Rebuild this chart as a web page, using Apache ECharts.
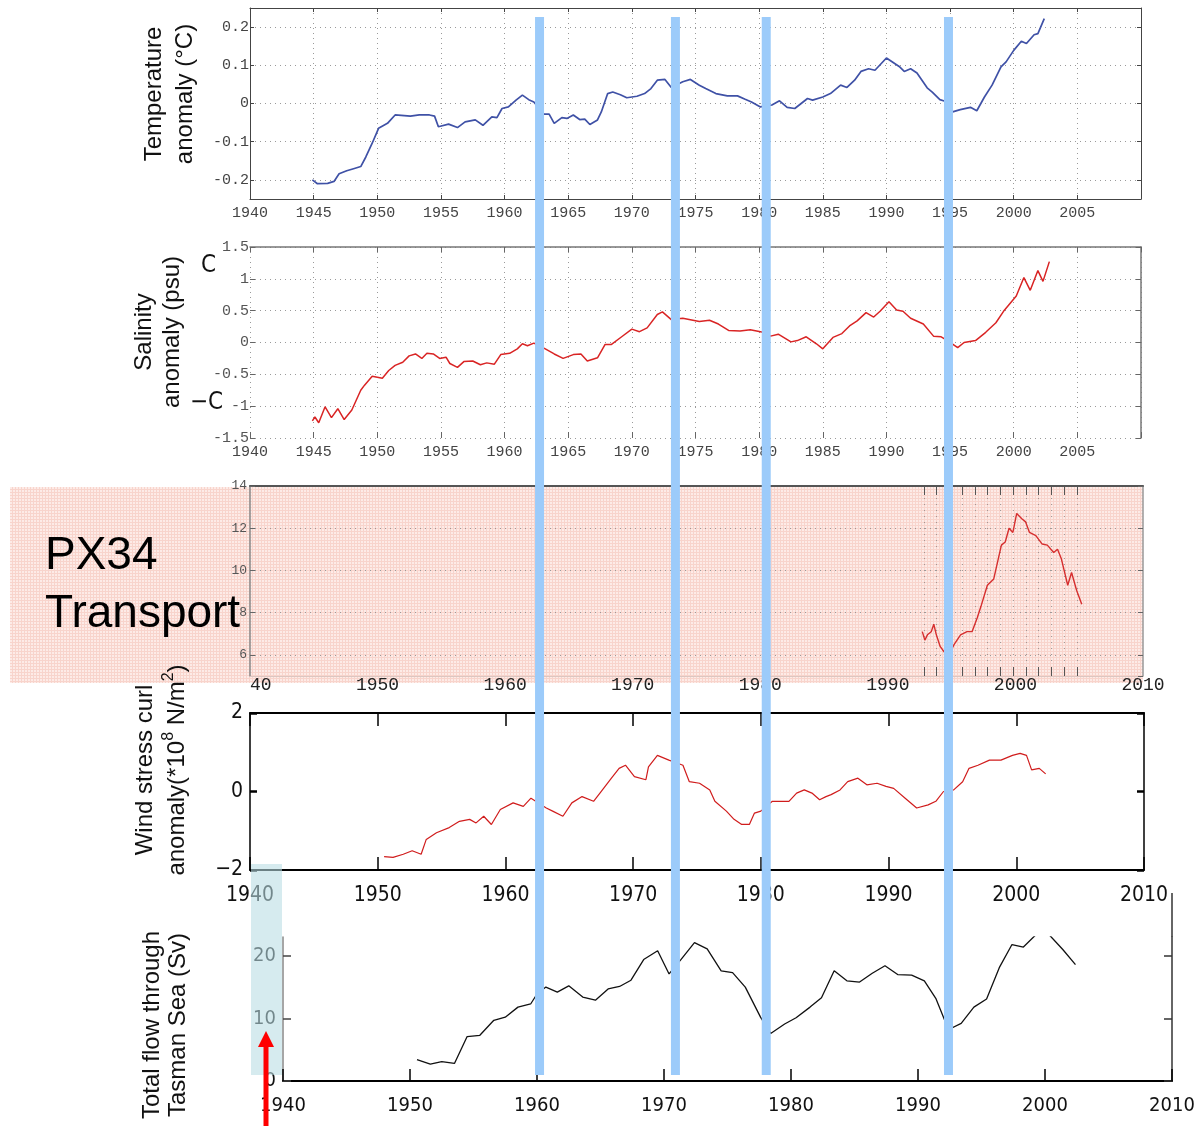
<!DOCTYPE html>
<html lang="en">
<head>
<meta charset="UTF-8">
<title>Tasman Sea anomalies</title>
<script src="https://cdn.jsdelivr.net/npm/echarts@6/dist/echarts.min.js"></script>
<style>html,body{margin:0;padding:0;background:#fff;}</style>
</head>
<body>
<div id="main" style="width:1201px;height:1126px;"></div>
<script type="text/javascript">

// [year, value] pairs
const temperature = [
    [1944.9,-0.2],[1945.3,-0.21],[1946.1,-0.209],[1946.6,-0.204],[1947,-0.184],[1947.6,-0.176],[1948.2,-0.17],
    [1948.7,-0.165],[1949.1,-0.14],[1949.6,-0.104],[1950.1,-0.065],[1950.8,-0.052],[1951.4,-0.03],[1952.6,-0.033],
    [1953.3,-0.03],[1954.1,-0.03],[1954.5,-0.033],[1954.8,-0.061],[1955.6,-0.054],[1956.3,-0.063],[1956.9,-0.048],
    [1957.7,-0.043],[1958.3,-0.057],[1959,-0.035],[1959.4,-0.037],[1959.8,-0.013],[1960.3,-0.009],[1960.9,0.009],
    [1961.4,0.022],[1961.9,0.01],[1962.3,0.004],[1963.1,-0.028],[1963.5,-0.028],[1963.9,-0.052],[1964.5,-0.037],
    [1964.9,-0.039],[1965.4,-0.03],[1965.9,-0.042],[1966.3,-0.041],[1966.7,-0.055],[1967.3,-0.043],[1967.6,-0.022],
    [1968.1,0.026],[1968.5,0.03],[1969.1,0.023],[1969.6,0.015],[1970.4,0.019],[1971,0.026],[1971.5,0.039],
    [1972,0.061],[1972.6,0.063],[1973.1,0.042],[1974,0.057],[1974.6,0.063],[1975.3,0.048],[1975.8,0.039],
    [1976.6,0.026],[1977.5,0.02],[1978.3,0.02],[1978.9,0.011],[1979.4,0.004],[1980.1,-0.009],[1981,-0.004],
    [1981.6,0.007],[1982.2,-0.01],[1982.8,-0.013],[1983.8,0.013],[1984.2,0.009],[1985,0.017],[1985.6,0.026],
    [1986.4,0.048],[1986.9,0.042],[1987.5,0.061],[1988,0.084],[1988.6,0.091],[1989.1,0.087],[1990,0.119],
    [1991,0.097],[1991.4,0.084],[1991.9,0.091],[1992.4,0.08],[1993.2,0.041],[1993.6,0.03],[1994.2,0.01],
    [1994.6,0.006],[1995.2,-0.022],[1995.8,-0.016],[1996.6,-0.01],[1997.1,-0.019],[1997.7,0.017],[1998.3,0.048],
    [1999,0.096],[1999.4,0.109],[2000,0.139],[2000.6,0.163],[2001,0.157],[2001.6,0.18],[2001.9,0.183],[2002.4,0.222]
];

const salinity = [
    [1944.9,-1.23],[1945.1,-1.17],[1945.4,-1.26],[1945.9,-1.01],[1946.4,-1.18],[1946.9,-1.04],[1947.4,-1.21],
    [1948,-1.06],[1948.7,-0.75],[1949,-0.67],[1949.6,-0.53],[1950.4,-0.56],[1950.9,-0.44],[1951.4,-0.36],
    [1952,-0.31],[1952.5,-0.21],[1953,-0.18],[1953.5,-0.25],[1953.9,-0.17],[1954.4,-0.18],[1954.9,-0.25],
    [1955.4,-0.23],[1955.7,-0.33],[1956.3,-0.39],[1956.8,-0.3],[1957.5,-0.29],[1958.1,-0.35],[1958.6,-0.32],
    [1959.2,-0.34],[1959.7,-0.19],[1960.4,-0.17],[1961,-0.1],[1961.4,-0.02],[1961.8,-0.05],[1962.3,-0.01],
    [1963.2,-0.1],[1963.9,-0.18],[1964.6,-0.25],[1965.4,-0.19],[1966,-0.18],[1966.5,-0.29],[1967.3,-0.24],
    [1967.9,-0.03],[1968.4,-0.03],[1969.2,0.09],[1970,0.21],[1970.6,0.17],[1971.2,0.23],[1972,0.44],
    [1972.4,0.48],[1973.1,0.36],[1974,0.38],[1975.3,0.33],[1976.1,0.35],[1976.8,0.29],[1977.6,0.19],
    [1978.5,0.18],[1979.3,0.2],[1980.3,0.16],[1980.9,0.1],[1981.5,0.13],[1982.5,0.01],[1983,0.03],
    [1983.7,0.09],[1984.5,-0.02],[1985,-0.1],[1985.8,0.08],[1986.5,0.14],[1987.1,0.26],[1987.7,0.34],
    [1988.4,0.47],[1989,0.4],[1989.5,0.49],[1990.2,0.64],[1990.8,0.51],[1991.3,0.49],[1991.9,0.38],
    [1992.9,0.29],[1993.7,0.1],[1994.3,0.09],[1994.8,0.03],[1995.6,-0.08],[1996.1,0],[1997,0.03],
    [1997.8,0.16],[1998.6,0.31],[1999.2,0.49],[2000.2,0.73],[2000.8,1.02],[2001.3,0.82],[2001.9,1.13],
    [2002.3,0.96],[2002.8,1.27]
];

const px34 = [
    [1992.7,7.1],[1992.9,6.7],[1993.1,6.95],[1993.4,7.1],[1993.6,7.45],[1993.8,6.95],[1994.1,6.4],[1994.4,6.15],
    [1994.9,6.15],[1995.2,6.5],[1995.7,6.95],[1996.2,7.1],[1996.6,7.1],[1997,7.75],[1997.3,8.3],[1997.8,9.3],
    [1998.3,9.6],[1998.9,11.2],[1999.2,11.35],[1999.5,12],[1999.8,11.8],[2000.1,12.7],[2000.5,12.45],
    [2000.8,12.3],[2001.1,11.8],[2001.6,11.65],[2002.1,11.25],[2002.5,11.2],[2003,10.85],[2003.3,11],
    [2003.6,10.55],[2004.1,9.3],[2004.4,9.9],[2004.8,9.05],[2005.2,8.4]
];
const px34TickYears = [1992.8,1993.8,1994.8,1995.8,1996.8,1997.8,1998.8,1999.8,2000.8,2001.8,2002.8,2003.8,2004.8];

const windCurl = [
    [1950.5,-1.66],[1951.2,-1.68],[1952,-1.6],[1952.7,-1.51],[1953.4,-1.6],[1953.8,-1.22],[1954.6,-1.05],
    [1955.6,-0.92],[1956.4,-0.76],[1957.2,-0.71],[1957.7,-0.8],[1958.3,-0.63],[1958.9,-0.84],[1959.6,-0.46],
    [1960.6,-0.29],[1961.4,-0.38],[1962,-0.17],[1963.2,-0.42],[1963.7,-0.5],[1964.5,-0.63],[1965.2,-0.29],
    [1966,-0.13],[1966.9,-0.25],[1967.4,-0.04],[1968.3,0.34],[1968.9,0.59],[1969.4,0.67],[1970.1,0.38],
    [1971,0.3],[1971.2,0.63],[1971.9,0.92],[1972.8,0.8],[1973.9,0.67],[1974.4,0.25],[1975.2,0.21],
    [1976,0.04],[1976.4,-0.25],[1977.3,-0.5],[1977.9,-0.71],[1978.5,-0.84],[1979.1,-0.84],[1979.5,-0.55],
    [1980,-0.5],[1980.9,-0.25],[1981.4,-0.25],[1982.2,-0.25],[1982.8,-0.04],[1983.4,0.04],[1984,-0.04],
    [1984.6,-0.21],[1985.1,-0.13],[1985.5,-0.08],[1986.2,0.04],[1986.8,0.25],[1987.6,0.34],[1988.3,0.17],
    [1989.1,0.21],[1989.8,0.13],[1990.4,0.08],[1991.3,-0.17],[1992.2,-0.42],[1993.1,-0.34],[1993.7,-0.25],
    [1994.3,0],[1995.1,0.04],[1995.8,0.25],[1996.3,0.59],[1997,0.67],[1997.9,0.8],[1998.8,0.8],[1999.7,0.92],
    [2000.3,0.97],[2000.8,0.92],[2001.2,0.55],[2001.8,0.59],[2002.3,0.45]
];

const tasmanFlow = [
    [1950.55,3.4],[1951.6,2.7],[1952.5,3.1],[1953.5,2.8],[1954.5,7.1],[1955.5,7.3],[1956.6,9.7],[1957.5,10.2],
    [1958.5,11.8],[1959.5,12.3],[1960,13.9],[1960.7,15],[1961.6,14.2],[1962.5,15.2],[1963.6,13.4],[1964.6,12.9],
    [1965.6,14.7],[1966.5,15.1],[1967.4,16.1],[1968.4,19.4],[1969.5,20.8],[1970.4,17.1],[1971.3,19.3],
    [1972.4,22.1],[1973.4,21.1],[1974.5,17.6],[1975.4,17.3],[1976.4,15],[1977.6,10.2],[1978.4,7.6],
    [1979.5,9.1],[1980.4,10.1],[1981.5,11.8],[1982.4,13.3],[1983.4,17.6],[1984.4,16],[1985.4,15.8],
    [1986.4,17.2],[1987.4,18.4],[1988.4,17],[1989.5,16.9],[1990.5,16],[1991.4,13.2],[1992.1,9.7],
    [1992.5,8.3],[1993.4,9.2],[1994.4,11.8],[1995.4,13.1],[1996.4,18.1],[1997.4,21.8],[1998.3,21.4],
    [1999.2,23.2],[1999.8,24.2],[2000.4,23.2],[2001.4,21],[2002.4,18.6]
];
const flowTicks = [0, 10, 20];

// years (on the bottom panel's axis) of the blue highlight bars
const highlightYears = [1960.2, 1970.9, 1978.05, 1992.4];

const mono = "'Liberation Mono', 'DejaVu Sans Mono', monospace";
const narrow = "'DejaVu Sans Condensed', 'Liberation Sans Narrow', 'DejaVu Sans', sans-serif";
const sans = "'Liberation Sans', Arial, sans-serif";

const line = (color, width, show) => ({show: show !== false, onZero: false, lineStyle: {color: color, width: width}});
const ticks = (len, color, width) => ({show: true, inside: true, length: len, lineStyle: {color: color, width: width || 1}});
const noTicks = {show: false};
const dotted = {show: true, lineStyle: {color: '#9a9a9a', width: 1, type: [1, 4]}};
const noLabel = {show: false};
const noSplit = {show: false};
const yearLabel = v => String(v);

function lineSeries(data, idx, color, width) {
    return {
        type: 'line', xAxisIndex: idx, yAxisIndex: idx, data: data,
        showSymbol: false, symbol: 'none', z: 3,
        lineStyle: {color: color, width: width}, itemStyle: {color: color}
    };
}

let option = {
    animation: false,
    backgroundColor: '#fff',
    grid: [
        {left: 250, top: 8, width: 891, height: 191, outerBoundsMode: 'none'},
        {left: 250, top: 247, width: 891, height: 191, outerBoundsMode: 'none'},
        {left: 250, top: 486, width: 893, height: 190, outerBoundsMode: 'none'},
        {left: 250, top: 713, width: 894, height: 157, outerBoundsMode: 'none'},
        {left: 283, top: 937, width: 889, height: 144, outerBoundsMode: 'none'}
    ],
    xAxis: [
        // temperature
        {type: 'value', gridIndex: 0, position: 'bottom', min: 1940, max: 2010, interval: 5,
            axisLine: line('#444', 1), axisTick: ticks(4, '#444'), splitLine: dotted,
            axisLabel: {fontFamily: mono, fontSize: 15, color: '#444', margin: 7,
                formatter: v => v === 2010 ? '' : String(v)}},
        {type: 'value', gridIndex: 0, position: 'top', min: 1940, max: 2010, interval: 5,
            axisLine: line('#444', 1), axisTick: ticks(4, '#444'), axisLabel: noLabel, splitLine: noSplit},
        // salinity
        {type: 'value', gridIndex: 1, position: 'bottom', min: 1940, max: 2010, interval: 5,
            axisLine: line('#777', 1, false), axisTick: ticks(6, '#666'), splitLine: dotted,
            axisLabel: {fontFamily: mono, fontSize: 15, color: '#444', margin: 7,
                formatter: v => v === 2010 ? '' : String(v)}},
        {type: 'value', gridIndex: 1, position: 'top', min: 1940, max: 2010, interval: 5,
            axisLine: line('#777', 1.5), axisTick: ticks(5, '#666'), axisLabel: noLabel, splitLine: noSplit},
        // PX34
        {type: 'value', gridIndex: 2, position: 'bottom', min: 1940, max: 2010, interval: 10,
            axisLine: line('#dcc6c1', 1), axisTick: noTicks, splitLine: noSplit,
            axisLabel: {fontFamily: mono, fontSize: 18, color: '#222', margin: 0,
                formatter: v => v === 1940 ? '{h|19}{n|40}' : String(v),
                rich: {
                    h: {fontFamily: mono, fontSize: 18, color: 'rgba(0,0,0,0)'},
                    n: {fontFamily: mono, fontSize: 18, color: '#222'}
                }}},
        {type: 'value', gridIndex: 2, position: 'top', min: 1940, max: 2010,
            axisLine: line('#555', 2), axisTick: noTicks, axisLabel: noLabel, splitLine: noSplit},
        // wind stress curl
        {type: 'value', gridIndex: 3, position: 'bottom', min: 1940, max: 2010, interval: 10,
            axisLine: line('#000', 2), axisTick: ticks(13, '#000', 1.5), splitLine: noSplit,
            axisLabel: {fontFamily: narrow, fontSize: 21, color: '#111', margin: 15, formatter: yearLabel}},
        {type: 'value', gridIndex: 3, position: 'top', min: 1940, max: 2010, interval: 10,
            axisLine: line('#000', 2), axisTick: ticks(13, '#000', 1.5), axisLabel: noLabel, splitLine: noSplit},
        // total flow
        {type: 'value', gridIndex: 4, position: 'bottom', min: 1940, max: 2010, interval: 10,
            axisLine: line('#000', 2), axisTick: ticks(12, '#000', 1.5), splitLine: noSplit,
            axisLabel: {fontFamily: narrow, fontSize: 20, color: '#111', margin: 15, formatter: yearLabel}}
    ],
    yAxis: [
        {type: 'value', gridIndex: 0, position: 'left', min: -0.25, max: 0.25, minInterval: 0.1, maxInterval: 0.1,
            axisLine: line('#444', 1), axisTick: ticks(4, '#444'), splitLine: dotted,
            axisLabel: {fontFamily: mono, fontSize: 15, color: '#444', margin: 1, showMinLabel: false, showMaxLabel: false,
                formatter: v => String(Math.round(v * 10) / 10)}},
        {type: 'value', gridIndex: 0, position: 'right', min: -0.25, max: 0.25, minInterval: 0.1, maxInterval: 0.1,
            axisLine: line('#444', 1), axisTick: ticks(4, '#444'), axisLabel: noLabel, splitLine: noSplit},
        {type: 'value', gridIndex: 1, position: 'left', min: -1.5, max: 1.5, interval: 0.5,
            axisLine: line('#777', 1, false), axisTick: ticks(5, '#666'), splitLine: dotted,
            axisLabel: {fontFamily: mono, fontSize: 15, color: '#555', margin: 1, formatter: v => String(v)}},
        {type: 'value', gridIndex: 1, position: 'right', min: -1.5, max: 1.5, interval: 0.5,
            axisLine: line('#777', 1.5), axisTick: ticks(5, '#666'), axisLabel: noLabel, splitLine: noSplit},
        {type: 'value', gridIndex: 2, position: 'left', min: 5, max: 14, minInterval: 2, maxInterval: 2,
            axisLine: line('#888', 1.5), axisTick: ticks(5, '#666'), splitLine: dotted,
            axisLabel: {fontFamily: mono, fontSize: 13, color: '#555', margin: 3, showMinLabel: false,
                formatter: v => String(v)}},
        {type: 'value', gridIndex: 2, position: 'right', min: 5, max: 14, minInterval: 2, maxInterval: 2,
            axisLine: line('#999', 1.5), axisTick: ticks(5, '#666'), axisLabel: noLabel, splitLine: noSplit},
        {type: 'value', gridIndex: 3, position: 'left', min: -2, max: 2, interval: 2,
            axisLine: line('#000', 1.5), axisTick: ticks(7, '#000', 2.5), splitLine: noSplit,
            axisLabel: {fontFamily: narrow, fontSize: 21, color: '#111', margin: 7,
                formatter: v => String(v).replace('-', '\u2212')}},
        {type: 'value', gridIndex: 3, position: 'right', min: -2, max: 2, interval: 2,
            axisLine: line('#000', 1.5), axisTick: ticks(7, '#000', 2.5), axisLabel: noLabel, splitLine: noSplit},
        {type: 'value', gridIndex: 4, position: 'left', min: 0, max: 23, interval: 10,
            axisLine: line('#888', 1.5),
            axisTick: Object.assign(ticks(8, '#444', 1.5), {customValues: flowTicks}), splitLine: noSplit,
            axisLabel: {fontFamily: narrow, fontSize: 20, color: '#111', margin: 7,
                customValues: flowTicks, formatter: v => String(v)}},
        {type: 'value', gridIndex: 4, position: 'right', min: 0, max: 23, interval: 10,
            axisLine: line('#333', 1.5),
            axisTick: Object.assign(ticks(8, '#333', 1.5), {customValues: flowTicks}),
            axisLabel: noLabel, splitLine: noSplit}
    ],
    series: [
        lineSeries(temperature, 0, '#3f51a6', 1.7),
        lineSeries(salinity, 2, '#d92424', 1.5),
        lineSeries(px34, 4, '#d62e2e', 1.4),
        {
            // yearly ticks drawn on the PX34 panel
            type: 'custom', xAxisIndex: 4, yAxisIndex: 4, z: 2,
            data: px34TickYears.map(y => [y]),
            renderItem: function (params, api) {
                const top = api.coord([api.value(0), 14]);
                const bot = api.coord([api.value(0), 5]);
                const x = Math.round(top[0]) + 0.5;
                return {
                    type: 'group',
                    children: [
                        {type: 'line', shape: {x1: x, y1: top[1], x2: x, y2: top[1] + 9}, style: {stroke: '#555', lineWidth: 1}},
                        {type: 'line', shape: {x1: x, y1: bot[1] - 9, x2: x, y2: bot[1]}, style: {stroke: '#555', lineWidth: 1}},
                        {type: 'line', shape: {x1: x, y1: top[1] + 12, x2: x, y2: bot[1] - 12},
                            style: {stroke: '#a09a98', lineWidth: 1, lineDash: [1, 5]}}
                    ]
                };
            }
        },
        lineSeries(windCurl, 6, '#d01c1c', 1.2),
        lineSeries(tasmanFlow, 8, '#111', 1.3)
    ]
};

let myChart = echarts.init(document.getElementById('main'));
myChart.setOption(option);

// pink dotted background of the PX34 panel
const tile = document.createElement('canvas');
tile.width = 3;
tile.height = 3;
const tc = tile.getContext('2d');
tc.fillStyle = '#fdebe7';
tc.fillRect(0, 0, 3, 3);
tc.fillStyle = '#f8d4cc';
tc.fillRect(0, 0, 3, 1);
tc.fillRect(0, 0, 1, 3);

const label = (x, y, text, size, extra) => ({
    type: 'text', x: x, y: y, rotation: Math.PI / 2, z: 50,
    style: Object.assign({text: text, fontFamily: sans, fontSize: size, fill: '#111',
        align: 'center', verticalAlign: 'middle'}, extra)
});

let graphics = [
    {type: 'rect', z: -10, shape: {x: 10, y: 487, width: 1133, height: 196},
        style: {fill: {image: tile, repeat: 'repeat'}}},
    label(170, 94, 'Temperature\nanomaly (\u00b0C)', 24, {lineHeight: 31}),
    label(158, 332, 'Salinity\nanomaly (psu)', 24, {lineHeight: 28}),
    label(161, 770, 'Wind stress curl\nanomaly(*10{s|8} N/m{s|2})', 24, {lineHeight: 32,
        rich: {s: {fontFamily: sans, fontSize: 16, verticalAlign: 'top', fill: '#111'}}}),
    label(165, 1025, 'Total flow through\nTasman Sea (Sv)', 24, {lineHeight: 26}),
    {type: 'text', x: 201, y: 266, z: 50, style: {text: 'C', fontFamily: narrow, fontSize: 24, fill: '#111', verticalAlign: 'middle'}},
    {type: 'text', x: 190, y: 403, z: 50, style: {text: '\u2212C', fontFamily: narrow, fontSize: 24, fill: '#111', verticalAlign: 'middle'}},
    {type: 'text', x: 45, y: 556, z: 50, style: {text: 'PX34', fontFamily: sans, fontSize: 46, fill: '#000', verticalAlign: 'middle'}},
    {type: 'text', x: 45, y: 614, z: 50, style: {text: 'Transport', fontFamily: sans, fontSize: 46, fill: '#000', verticalAlign: 'middle'}},
    // top part of the flow panel's right axis
    {type: 'line', z: 5, shape: {x1: 1172, y1: 893, x2: 1172, y2: 937}, style: {stroke: '#333', lineWidth: 1.5}},
    // light blue box over the lower left labels
    {type: 'rect', z: 100, shape: {x: 251, y: 864, width: 31, height: 211}, style: {fill: 'rgba(185,220,228,0.58)'}},
    // red arrow
    {type: 'rect', z: 110, shape: {x: 263.5, y: 1045, width: 5, height: 81}, style: {fill: '#ff0000'}},
    {type: 'polygon', z: 110, shape: {points: [[258, 1047], [274, 1047], [266, 1031]]}, style: {fill: '#ff0000'}}
];

highlightYears.forEach(function (yr) {
    const x = myChart.convertToPixel({xAxisIndex: 8}, yr);
    graphics.push({type: 'rect', z: 100, shape: {x: x - 4.5, y: 17, width: 9, height: 1058}, style: {fill: '#9ccbfa'}});
});

myChart.setOption({graphic: graphics});
</script>
</body>
</html>
